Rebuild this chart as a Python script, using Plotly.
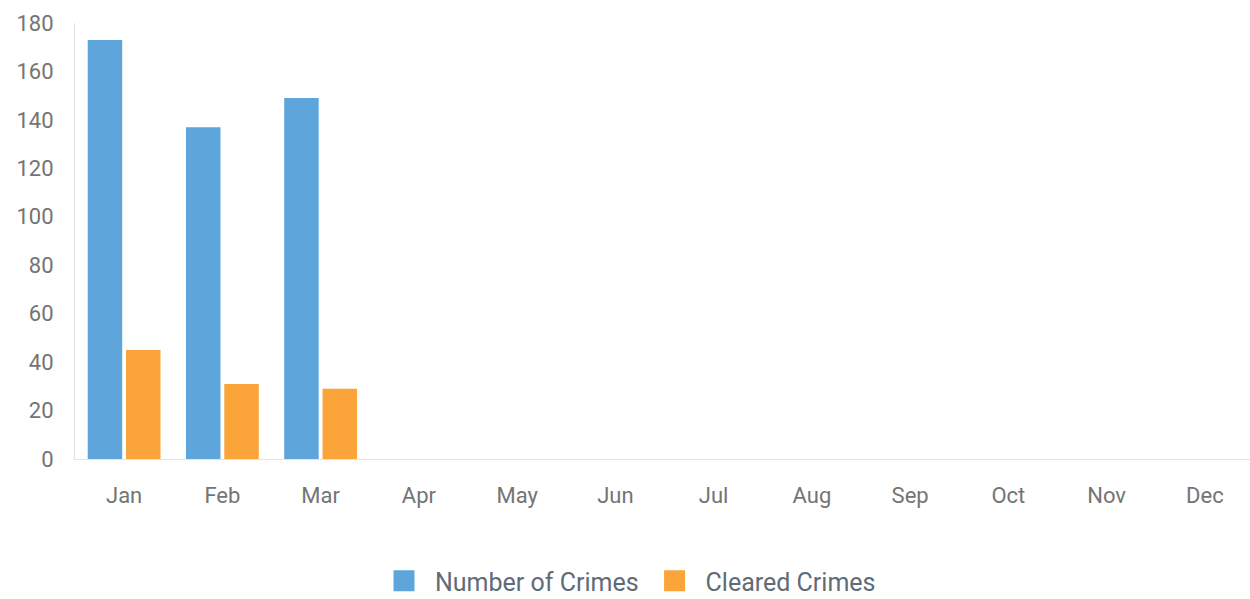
import plotly.graph_objects as go

months = ["Jan", "Feb", "Mar", "Apr", "May", "Jun", "Jul", "Aug", "Sep", "Oct", "Nov", "Dec"]
number_of_crimes = [173, 137, 149, None, None, None, None, None, None, None, None, None]
cleared_crimes = [45, 31, 29, None, None, None, None, None, None, None, None, None]
y_ticks = [0, 20, 40, 60, 80, 100, 120, 140, 160, 180]

BLUE = "#5DA5DA"
ORANGE = "#FAA43A"
FONT = "Roboto"
TICK_COLOR = "#747474"

fig = go.Figure()
fig.add_trace(go.Bar(x=months, y=number_of_crimes, name="Number of Crimes",
                     marker=dict(color=BLUE, line=dict(width=0)), showlegend=False))
fig.add_trace(go.Bar(x=months, y=cleared_crimes, name="Cleared Crimes",
                     marker=dict(color=ORANGE, line=dict(width=0)), showlegend=False))
# legend proxies with larger square symbols
for name, col in [("Number of Crimes", BLUE), ("Cleared Crimes", ORANGE)]:
    fig.add_trace(go.Scatter(x=[None], y=[None], mode="markers", name=name,
                             marker=dict(symbol="square", size=16, color=col,
                                         line=dict(width=5, color=col))))

fig.update_layout(
    width=1254, height=599,
    margin=dict(l=75, r=0, t=23, b=140, autoexpand=False),
    paper_bgcolor="white", plot_bgcolor="white",
    barmode="group", bargap=0.22, bargroupgap=0.1,
    font=dict(family=FONT, color=TICK_COLOR, size=22),
    showlegend=True,
    legend=dict(orientation="h", x=0.5, xanchor="center", xref="container",
                y=0.03, yanchor="middle", yref="container",
                font=dict(size=25, color="#5F6B77"), itemwidth=52,
                traceorder="normal"),
    xaxis=dict(categoryorder="array", categoryarray=months, showgrid=False,
               showline=True, linecolor="#E3E3E3", linewidth=1,
               ticks="outside", ticklen=17, tickcolor="rgba(0,0,0,0)",
               tickfont=dict(size=22, color=TICK_COLOR), zeroline=False, automargin=False),
    yaxis=dict(range=[0, 180], tickvals=y_ticks, showgrid=False,
               showline=True, linecolor="#E3E3E3", linewidth=1,
               ticks="outside", ticklen=16, tickcolor="rgba(0,0,0,0)",
               tickfont=dict(size=22, color=TICK_COLOR), zeroline=False, automargin=False),
)

fig.write_html("out.html", config={"displayModeBar": False},
               post_script="document.body.style.margin='0';document.body.style.overflow='hidden';")
